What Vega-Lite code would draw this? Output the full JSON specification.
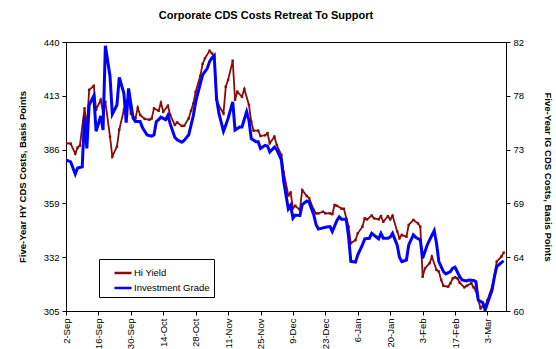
{
  "$schema": "https://vega.github.io/schema/vega-lite/v6.json",
  "width": 440,
  "height": 269,
  "autosize": {"type": "none"},
  "padding": {"left": 66, "top": 42, "right": 50, "bottom": 38},
  "background": "white",
  "config": {
    "font": "Liberation Sans",
    "view": {"stroke": "black", "strokeWidth": 1},
    "axis": {
      "grid": false,
      "domainColor": "black",
      "tickColor": "black",
      "labelColor": "black",
      "titleColor": "black",
      "labelFontSize": 9.5,
      "titleFontSize": 9.5,
      "titleFontWeight": "bold",
      "tickSize": 4,
      "labelPadding": 3
    }
  },
  "title": {
    "text": "Corporate CDS Costs Retreat To Support",
    "fontSize": 11,
    "fontWeight": "bold",
    "color": "black",
    "anchor": "middle",
    "offset": 16,
    "dx": -20
  },
  "datasets": {
    "hy": [
      {"date": "2004-09-02", "v": 389.2}, {"date": "2004-09-04", "v": 389}, {"date": "2004-09-06", "v": 384}, {"date": "2004-09-07", "v": 387}, {"date": "2004-09-08", "v": 388},
      {"date": "2004-09-10", "v": 406.7}, {"date": "2004-09-11", "v": 397.5}, {"date": "2004-09-12", "v": 416}, {"date": "2004-09-14", "v": 418}, {"date": "2004-09-15", "v": 406},
      {"date": "2004-09-17", "v": 411}, {"date": "2004-09-18", "v": 404.5}, {"date": "2004-09-19", "v": 410}, {"date": "2004-09-21", "v": 392.5}, {"date": "2004-09-22", "v": 382.5},
      {"date": "2004-09-24", "v": 387.5}, {"date": "2004-09-25", "v": 396}, {"date": "2004-09-27", "v": 406}, {"date": "2004-09-29", "v": 412.5}, {"date": "2004-09-30", "v": 404},
      {"date": "2004-10-02", "v": 401.7}, {"date": "2004-10-03", "v": 407}, {"date": "2004-10-04", "v": 403.4}, {"date": "2004-10-06", "v": 401.4}, {"date": "2004-10-08", "v": 401},
      {"date": "2004-10-09", "v": 401.6}, {"date": "2004-10-10", "v": 406.7}, {"date": "2004-10-12", "v": 405.5}, {"date": "2004-10-13", "v": 409.5}, {"date": "2004-10-14", "v": 405},
      {"date": "2004-10-16", "v": 408}, {"date": "2004-10-17", "v": 403.4}, {"date": "2004-10-19", "v": 398.4}, {"date": "2004-10-20", "v": 399.6}, {"date": "2004-10-22", "v": 397.9},
      {"date": "2004-10-23", "v": 397.9}, {"date": "2004-10-25", "v": 401.7}, {"date": "2004-10-26", "v": 405.5}, {"date": "2004-10-27", "v": 409.2}, {"date": "2004-10-28", "v": 415},
      {"date": "2004-10-30", "v": 423}, {"date": "2004-10-31", "v": 429}, {"date": "2004-11-01", "v": 431.8}, {"date": "2004-11-03", "v": 435.6}, {"date": "2004-11-04", "v": 434.3},
      {"date": "2004-11-05", "v": 433}, {"date": "2004-11-06", "v": 411}, {"date": "2004-11-07", "v": 408}, {"date": "2004-11-09", "v": 404.2}, {"date": "2004-11-10", "v": 417.6},
      {"date": "2004-11-11", "v": 421}, {"date": "2004-11-13", "v": 430.6}, {"date": "2004-11-14", "v": 411}, {"date": "2004-11-15", "v": 415}, {"date": "2004-11-17", "v": 412.5},
      {"date": "2004-11-18", "v": 416.4}, {"date": "2004-11-20", "v": 408.4}, {"date": "2004-11-21", "v": 400}, {"date": "2004-11-22", "v": 395.5}, {"date": "2004-11-24", "v": 395.5},
      {"date": "2004-11-25", "v": 392.8}, {"date": "2004-11-27", "v": 393.2}, {"date": "2004-11-28", "v": 394.2}, {"date": "2004-11-29", "v": 389.2}, {"date": "2004-12-01", "v": 392.5},
      {"date": "2004-12-02", "v": 388.3}, {"date": "2004-12-04", "v": 383.3}, {"date": "2004-12-05", "v": 374.7}, {"date": "2004-12-07", "v": 363}, {"date": "2004-12-08", "v": 364.4},
      {"date": "2004-12-09", "v": 356.6}, {"date": "2004-12-10", "v": 357.8}, {"date": "2004-12-12", "v": 355.7}, {"date": "2004-12-13", "v": 365.7}, {"date": "2004-12-15", "v": 362.7},
      {"date": "2004-12-16", "v": 361.6}, {"date": "2004-12-18", "v": 355.7}, {"date": "2004-12-19", "v": 354}, {"date": "2004-12-20", "v": 354}, {"date": "2004-12-22", "v": 354.8},
      {"date": "2004-12-23", "v": 354}, {"date": "2004-12-25", "v": 354}, {"date": "2004-12-26", "v": 353.6}, {"date": "2004-12-27", "v": 358.2}, {"date": "2004-12-28", "v": 357.8},
      {"date": "2004-12-30", "v": 356.4}, {"date": "2004-12-31", "v": 356.3}, {"date": "2005-01-02", "v": 347.3}, {"date": "2005-01-03", "v": 339}, {"date": "2005-01-05", "v": 340.6},
      {"date": "2005-01-06", "v": 344}, {"date": "2005-01-08", "v": 347.3}, {"date": "2005-01-09", "v": 351.5}, {"date": "2005-01-10", "v": 351}, {"date": "2005-01-12", "v": 352.9},
      {"date": "2005-01-13", "v": 351.5}, {"date": "2005-01-15", "v": 351}, {"date": "2005-01-16", "v": 352.6}, {"date": "2005-01-17", "v": 349.8}, {"date": "2005-01-19", "v": 352.6},
      {"date": "2005-01-20", "v": 351}, {"date": "2005-01-21", "v": 352.8}, {"date": "2005-01-23", "v": 345}, {"date": "2005-01-24", "v": 341.5}, {"date": "2005-01-25", "v": 343.2},
      {"date": "2005-01-27", "v": 342.3}, {"date": "2005-01-28", "v": 348.2}, {"date": "2005-01-30", "v": 350.7}, {"date": "2005-02-01", "v": 349}, {"date": "2005-02-02", "v": 347.3},
      {"date": "2005-02-03", "v": 322.2}, {"date": "2005-02-04", "v": 326.4}, {"date": "2005-02-06", "v": 329}, {"date": "2005-02-07", "v": 332.3}, {"date": "2005-02-09", "v": 325.6},
      {"date": "2005-02-10", "v": 324.8}, {"date": "2005-02-11", "v": 320.6}, {"date": "2005-02-12", "v": 317.6}, {"date": "2005-02-14", "v": 317.2}, {"date": "2005-02-15", "v": 318.9},
      {"date": "2005-02-16", "v": 321.4}, {"date": "2005-02-17", "v": 321.9}, {"date": "2005-02-18", "v": 321.4}, {"date": "2005-02-19", "v": 319.2}, {"date": "2005-02-21", "v": 316.9},
      {"date": "2005-02-22", "v": 317.6}, {"date": "2005-02-24", "v": 318.9}, {"date": "2005-02-25", "v": 316.9}, {"date": "2005-02-26", "v": 315.2}, {"date": "2005-02-28", "v": 306.4},
      {"date": "2005-03-01", "v": 307.5}, {"date": "2005-03-02", "v": 307.2}, {"date": "2005-03-03", "v": 310.5}, {"date": "2005-03-05", "v": 317.2}, {"date": "2005-03-06", "v": 322.6},
      {"date": "2005-03-07", "v": 329.8}, {"date": "2005-03-09", "v": 332.3}, {"date": "2005-03-10", "v": 334.3}
    ],
    "ig": [
      {"date": "2004-09-02", "v": 72.35}, {"date": "2004-09-04", "v": 72.2}, {"date": "2004-09-06", "v": 71.2}, {"date": "2004-09-07", "v": 71.7}, {"date": "2004-09-09", "v": 71.8},
      {"date": "2004-09-10", "v": 75.9}, {"date": "2004-09-11", "v": 73.3}, {"date": "2004-09-12", "v": 76.85}, {"date": "2004-09-14", "v": 77.6}, {"date": "2004-09-15", "v": 74.7},
      {"date": "2004-09-17", "v": 75.95}, {"date": "2004-09-18", "v": 74.8}, {"date": "2004-09-19", "v": 81.7}, {"date": "2004-09-21", "v": 79.2}, {"date": "2004-09-22", "v": 76.1},
      {"date": "2004-09-24", "v": 76.85}, {"date": "2004-09-25", "v": 79.1}, {"date": "2004-09-27", "v": 77.8}, {"date": "2004-09-28", "v": 75.4}, {"date": "2004-09-29", "v": 78.2},
      {"date": "2004-10-01", "v": 75.75}, {"date": "2004-10-02", "v": 75.5}, {"date": "2004-10-04", "v": 75.5}, {"date": "2004-10-05", "v": 75.0}, {"date": "2004-10-07", "v": 74.4},
      {"date": "2004-10-09", "v": 74.3}, {"date": "2004-10-10", "v": 74.4}, {"date": "2004-10-11", "v": 75.5}, {"date": "2004-10-12", "v": 75.65}, {"date": "2004-10-13", "v": 75.85},
      {"date": "2004-10-15", "v": 75.65}, {"date": "2004-10-16", "v": 76.0}, {"date": "2004-10-17", "v": 75.3}, {"date": "2004-10-19", "v": 74.2}, {"date": "2004-10-20", "v": 74.0},
      {"date": "2004-10-22", "v": 73.8}, {"date": "2004-10-23", "v": 73.95}, {"date": "2004-10-25", "v": 74.4}, {"date": "2004-10-26", "v": 75.2}, {"date": "2004-10-27", "v": 76.0},
      {"date": "2004-10-28", "v": 77.1}, {"date": "2004-10-30", "v": 78.6}, {"date": "2004-10-31", "v": 79.3}, {"date": "2004-11-02", "v": 79.85}, {"date": "2004-11-03", "v": 80.4},
      {"date": "2004-11-04", "v": 80.7}, {"date": "2004-11-05", "v": 80.9}, {"date": "2004-11-06", "v": 77.4}, {"date": "2004-11-07", "v": 76.2}, {"date": "2004-11-09", "v": 74.7},
      {"date": "2004-11-10", "v": 75.2}, {"date": "2004-11-11", "v": 75.75}, {"date": "2004-11-13", "v": 77.1}, {"date": "2004-11-14", "v": 74.8}, {"date": "2004-11-16", "v": 75.05},
      {"date": "2004-11-17", "v": 75.05}, {"date": "2004-11-19", "v": 76.3}, {"date": "2004-11-20", "v": 75.6}, {"date": "2004-11-21", "v": 74.1}, {"date": "2004-11-23", "v": 73.85},
      {"date": "2004-11-24", "v": 73.85}, {"date": "2004-11-25", "v": 73.3}, {"date": "2004-11-27", "v": 73.55}, {"date": "2004-11-28", "v": 73.5}, {"date": "2004-11-29", "v": 73.0},
      {"date": "2004-12-01", "v": 73.4}, {"date": "2004-12-02", "v": 73.2}, {"date": "2004-12-04", "v": 72.35}, {"date": "2004-12-05", "v": 70.6}, {"date": "2004-12-07", "v": 68.35},
      {"date": "2004-12-08", "v": 68.65}, {"date": "2004-12-09", "v": 67.6}, {"date": "2004-12-10", "v": 67.85}, {"date": "2004-12-12", "v": 67.8}, {"date": "2004-12-13", "v": 68.7},
      {"date": "2004-12-15", "v": 69.0}, {"date": "2004-12-16", "v": 68.9}, {"date": "2004-12-18", "v": 67.85}, {"date": "2004-12-19", "v": 67.05}, {"date": "2004-12-20", "v": 66.7},
      {"date": "2004-12-22", "v": 66.8}, {"date": "2004-12-23", "v": 66.85}, {"date": "2004-12-25", "v": 66.9}, {"date": "2004-12-26", "v": 66.5}, {"date": "2004-12-28", "v": 67.4},
      {"date": "2004-12-29", "v": 67.7}, {"date": "2004-12-30", "v": 67.5}, {"date": "2005-01-01", "v": 67.5}, {"date": "2005-01-02", "v": 66.1}, {"date": "2005-01-03", "v": 64.05},
      {"date": "2005-01-05", "v": 64.0}, {"date": "2005-01-06", "v": 64.6}, {"date": "2005-01-08", "v": 65.4}, {"date": "2005-01-09", "v": 65.9}, {"date": "2005-01-11", "v": 65.95},
      {"date": "2005-01-12", "v": 66.35}, {"date": "2005-01-14", "v": 66.05}, {"date": "2005-01-15", "v": 65.9}, {"date": "2005-01-16", "v": 66.35}, {"date": "2005-01-17", "v": 65.95},
      {"date": "2005-01-19", "v": 65.95}, {"date": "2005-01-20", "v": 66.05}, {"date": "2005-01-21", "v": 66.35}, {"date": "2005-01-23", "v": 65.4}, {"date": "2005-01-24", "v": 64.4},
      {"date": "2005-01-25", "v": 64.04}, {"date": "2005-01-27", "v": 64.17}, {"date": "2005-01-28", "v": 65.4}, {"date": "2005-01-30", "v": 66.22}, {"date": "2005-01-31", "v": 66.03},
      {"date": "2005-02-02", "v": 65.81}, {"date": "2005-02-03", "v": 64.31}, {"date": "2005-02-05", "v": 65.4}, {"date": "2005-02-06", "v": 65.81}, {"date": "2005-02-08", "v": 66.57},
      {"date": "2005-02-09", "v": 65.54}, {"date": "2005-02-10", "v": 64.04}, {"date": "2005-02-12", "v": 63.22}, {"date": "2005-02-13", "v": 63.03}, {"date": "2005-02-15", "v": 63.22},
      {"date": "2005-02-16", "v": 63.5}, {"date": "2005-02-17", "v": 63.58}, {"date": "2005-02-19", "v": 62.81}, {"date": "2005-02-20", "v": 62.54}, {"date": "2005-02-22", "v": 62.46},
      {"date": "2005-02-23", "v": 62.54}, {"date": "2005-02-25", "v": 62.49}, {"date": "2005-02-26", "v": 62.4}, {"date": "2005-02-27", "v": 60.9}, {"date": "2005-03-01", "v": 60.68},
      {"date": "2005-03-02", "v": 60.09}, {"date": "2005-03-03", "v": 60.63}, {"date": "2005-03-05", "v": 61.72}, {"date": "2005-03-06", "v": 62.81}, {"date": "2005-03-07", "v": 63.63},
      {"date": "2005-03-09", "v": 63.96}, {"date": "2005-03-10", "v": 64.1}
    ]
  },
  "encoding": {
    "x": {
      "field": "date",
      "type": "temporal",
      "title": null,
      "scale": {
        "type": "utc",
        "domain": [
          {"year": 2004, "month": 9, "date": 2, "utc": true},
          {"year": 2005, "month": 3, "date": 11, "utc": true}
        ]
      },
      "axis": {
        "format": "%-d-%b",
        "labelAngle": -90,
        "labelFlush": false,
        "labelOverlap": false,
        "values": [
          {"year": 2004, "month": 9, "date": 2, "utc": true},
          {"year": 2004, "month": 9, "date": 16, "utc": true},
          {"year": 2004, "month": 9, "date": 30, "utc": true},
          {"year": 2004, "month": 10, "date": 14, "utc": true},
          {"year": 2004, "month": 10, "date": 28, "utc": true},
          {"year": 2004, "month": 11, "date": 11, "utc": true},
          {"year": 2004, "month": 11, "date": 25, "utc": true},
          {"year": 2004, "month": 12, "date": 9, "utc": true},
          {"year": 2004, "month": 12, "date": 23, "utc": true},
          {"year": 2005, "month": 1, "date": 6, "utc": true},
          {"year": 2005, "month": 1, "date": 20, "utc": true},
          {"year": 2005, "month": 2, "date": 3, "utc": true},
          {"year": 2005, "month": 2, "date": 17, "utc": true},
          {"year": 2005, "month": 3, "date": 3, "utc": true}
        ]
      }
    }
  },
  "layer": [
    {
      "data": {"name": "hy"},
      "mark": {"type": "line", "strokeWidth": 1.8, "clip": true, "point": {"shape": "square", "size": 6, "filled": true}},
      "encoding": {
        "y": {
          "field": "v",
          "type": "quantitative",
          "scale": {"domain": [305, 440], "nice": false, "zero": false},
          "axis": {
            "orient": "left",
            "title": "Five-Year HY CDS Costs, Basis Points",
            "values": [305, 332, 359, 386, 413, 440],
            "titlePadding": 16
          }
        },
        "color": {
          "datum": "Hi Yield",
          "type": "nominal",
          "scale": {"domain": ["Hi Yield", "Investment Grade"], "range": ["#8B0A0A", "#0000FF"]},
          "legend": {
            "orient": "none",
            "legendX": 33,
            "legendY": 217,
            "title": null,
            "direction": "vertical",
            "symbolType": "stroke",
            "symbolSize": 289,
            "symbolStrokeWidth": 2.5,
            "symbolOffset": 10,
            "labelFontSize": 9.5,
            "labelColor": "black",
            "labelOffset": 1,
            "strokeColor": "black",
            "fillColor": "white",
            "padding": 4,
            "rowPadding": 0
          }
        }
      }
    },
    {
      "data": {"name": "ig"},
      "mark": {"type": "line", "strokeWidth": 3, "clip": true},
      "encoding": {
        "y": {
          "field": "v",
          "type": "quantitative",
          "scale": {"domain": [60, 82], "nice": false, "zero": false},
          "axis": {
            "orient": "right",
            "title": "Five-Year IG CDS Costs, Basis Points",
            "values": [60, 64.4, 68.8, 73.2, 77.6, 82],
            "format": ".0f",
            "titlePadding": 19
          }
        },
        "color": {"datum": "Investment Grade", "type": "nominal"}
      }
    }
  ],
  "resolve": {"scale": {"y": "independent"}}
}
